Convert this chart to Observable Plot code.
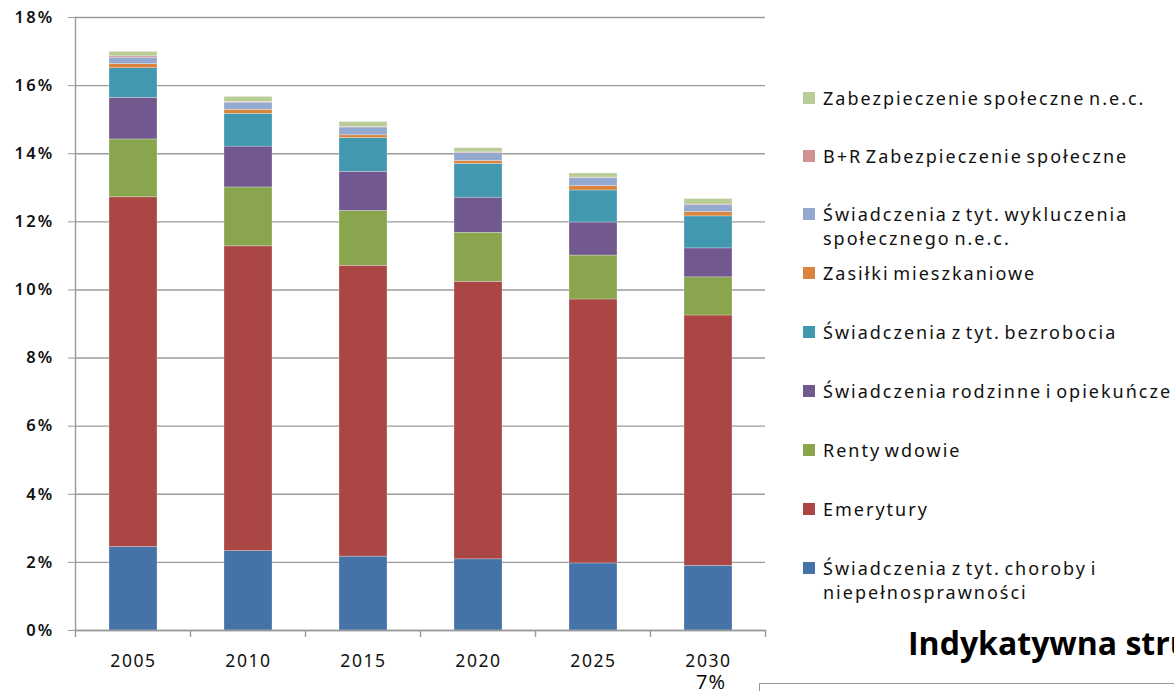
<!DOCTYPE html>
<html>
<head>
<meta charset="utf-8">
<script src="https://cdn.jsdelivr.net/npm/d3@7"></script>
<script src="https://cdn.jsdelivr.net/npm/@observablehq/plot@0.6"></script>
<style>
  html, body { margin: 0; padding: 0; background: #fff; }
  #wrap { position: relative; width: 1174px; height: 691px; overflow: hidden; background: #fff; font-family: "Noto Sans", sans-serif; }
  #chart { position: absolute; left: 0; top: 0; }
  #chart svg g[aria-label="y-axis tick label"] text { letter-spacing: 2.2px; }
  #chart svg g[aria-label="x-axis tick label"] text { letter-spacing: 1.6px; }
  .leg { position: absolute; left: 803px; font-size: 18px; letter-spacing: 2px; word-spacing: -3px; color: #111; line-height: 24px; white-space: nowrap; }
  .leg .sw { position: absolute; left: 0; top: 6px; width: 12px; height: 12px; }
  .leg .tx { position: absolute; left: 20px; top: 0; }
  #title { position: absolute; left: 908px; top: 621px; font-family: "Open Sans", sans-serif; font-weight: 700; font-size: 32px; color: #000; white-space: nowrap; }
  #seven { position: absolute; left: 696px; top: 668px; font-family: "Open Sans", sans-serif; font-size: 20px; letter-spacing: 1px; color: #000; }
  #line2 { position: absolute; left: 759px; top: 683px; width: 420px; height: 0; border-top: 1.5px solid #999; }
  #tick2 { position: absolute; left: 759px; top: 683px; width: 0; height: 8px; border-left: 1.5px solid #999; }
</style>
</head>
<body>
<div id="wrap">
  <div id="chart"></div>
  <div id="title">Indykatywna struktura</div>
  <div id="seven">7%</div>
  <div id="line2"></div>
  <div id="tick2"></div>
</div>
<script>
const years = ["2005", "2010", "2015", "2020", "2025", "2030"];
const seriesNames = [
  "Świadczenia z tyt. choroby i niepełnosprawności",
  "Emerytury",
  "Renty wdowie",
  "Świadczenia rodzinne i opiekuńcze",
  "Świadczenia z tyt. bezrobocia",
  "Zasiłki mieszkaniowe",
  "Świadczenia z tyt. wykluczenia społecznego n.e.c.",
  "B+R Zabezpieczenie społeczne",
  "Zabezpieczenie społeczne n.e.c."
];
const legendLines = [
  ["Świadczenia z tyt. choroby i", "niepełnosprawności"],
  ["Emerytury"],
  ["Renty wdowie"],
  ["Świadczenia rodzinne i opiekuńcze"],
  ["Świadczenia z tyt. bezrobocia"],
  ["Zasiłki mieszkaniowe"],
  ["Świadczenia z tyt. wykluczenia", "społecznego n.e.c."],
  ["B+R Zabezpieczenie społeczne"],
  ["Zabezpieczenie społeczne n.e.c."]
];
const seriesColors = ["#4572A7", "#AA4643", "#89A54E", "#71588F", "#4198AF", "#DB843D", "#93A9CF", "#D19392", "#B9CD96"];

const chorobaValues      = [2.45, 2.33, 2.17, 2.09, 1.97, 1.90];
const emeryturyValues    = [10.27, 8.95, 8.54, 8.15, 7.75, 7.35];
const rentyValues        = [1.70, 1.73, 1.61, 1.44, 1.29, 1.12];
const rodzinneValues     = [1.22, 1.20, 1.15, 1.03, 0.97, 0.85];
const bezrobocieValues   = [0.87, 0.96, 0.99, 0.99, 0.94, 0.94];
const mieszkanioweValues = [0.12, 0.12, 0.08, 0.09, 0.13, 0.13];
const wykluczenieValues  = [0.19, 0.21, 0.23, 0.23, 0.23, 0.20];
const brValues           = [0.04, 0.02, 0.02, 0.02, 0.02, 0.02];
const necValues          = [0.13, 0.15, 0.14, 0.12, 0.12, 0.16];

const yTicks = [0, 2, 4, 6, 8, 10, 12, 14, 16, 18];

const allValues = [chorobaValues, emeryturyValues, rentyValues, rodzinneValues, bezrobocieValues,
  mieszkanioweValues, wykluczenieValues, brValues, necValues];

const table = [];
seriesNames.forEach((s, i) => {
  years.forEach((y, j) => table.push({year: y, series: s, value: allValues[i][j]}));
});

const pInner = 0.583;
const chart = Plot.plot({
  width: 1174,
  height: 691,
  marginLeft: 75,
  marginRight: 409,
  marginTop: 17,
  marginBottom: 61,
  style: {fontFamily: "Noto Sans, sans-serif", fontSize: "16px", color: "#111", background: "transparent"},
  x: {domain: years, paddingInner: pInner, paddingOuter: pInner / 2, axis: null},
  y: {domain: [0, 18], axis: null},
  color: {domain: seriesNames, range: seriesColors},
  marks: [
    Plot.gridY(yTicks, {stroke: "#9a9a9a", strokeOpacity: 1, strokeWidth: 1.4}),
    Plot.barY(table, {x: "year", y: "value", fill: "series", order: seriesNames, stroke: "#ffffff", strokeOpacity: 0.45, strokeWidth: 0.6}),
    Plot.frame({anchor: "left", stroke: "#9a9a9a", strokeWidth: 1.4}),
    Plot.frame({anchor: "bottom", stroke: "#9a9a9a", strokeWidth: 1.4}),
    Plot.axisY(yTicks, {tickFormat: d => d + "%", tickSize: 7, tickPadding: 14, stroke: "#9a9a9a", fontSize: 16.5, fontWeight: 600, label: null}),
    Plot.axisX({tickSize: 0, tickPadding: 24, fontSize: 17.5, label: null})
  ]
});
document.getElementById("chart").appendChild(chart);

// category boundary ticks below the x axis, from the band scale
const xs = chart.scale("x");
const ys = chart.scale("y");
const gap = xs.step - xs.bandwidth;
const bounds = years.map(y => xs.apply(y) - gap / 2);
bounds.push(xs.apply(years[years.length - 1]) + xs.bandwidth + gap / 2);
const y0 = ys.apply(0);
d3.select(chart).append("g")
  .selectAll("line").data(bounds).join("line")
  .attr("x1", d => d).attr("x2", d => d)
  .attr("y1", y0).attr("y2", y0 + 7)
  .attr("stroke", "#9a9a9a").attr("stroke-width", 1.4);

// legend (top to bottom = reverse stacking order)
const legendTops = [86, 144, 202, 261, 320, 379, 438, 497, 556];
const wrap = document.getElementById("wrap");
const order = seriesNames.map((s, i) => i).reverse();
order.forEach((si, k) => {
  const div = document.createElement("div");
  div.className = "leg";
  div.style.top = legendTops[k] + "px";
  const sw = document.createElement("div");
  sw.className = "sw";
  sw.style.background = seriesColors[si];
  const tx = document.createElement("div");
  tx.className = "tx";
  tx.innerHTML = legendLines[si].join("<br>");
  div.appendChild(sw);
  div.appendChild(tx);
  wrap.appendChild(div);
});
</script>
</body>
</html>
